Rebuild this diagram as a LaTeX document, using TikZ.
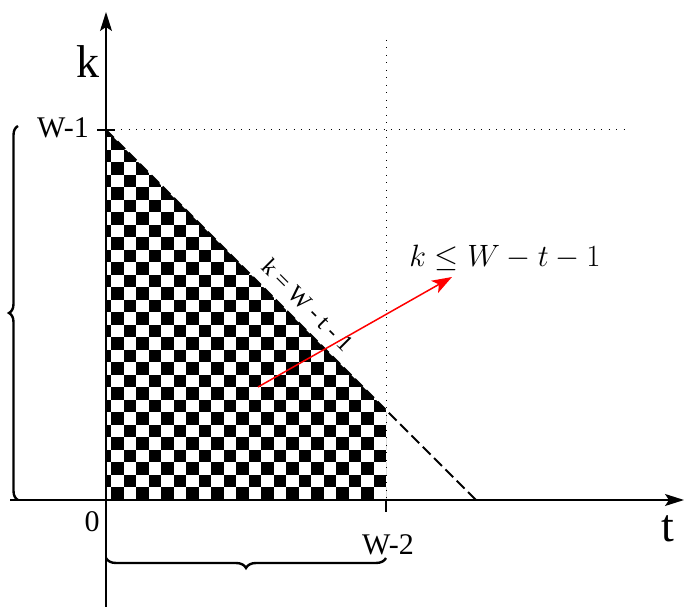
\documentclass[tikz,border=0pt]{standalone}
\usepackage[no-math]{fontspec}
\setmainfont{Liberation Serif}
\usetikzlibrary{arrows.meta,decorations.pathreplacing}
\begin{document}
\begin{tikzpicture}[x=1pt,y=1pt,
  axisline/.style={line width=1.3pt,-{Stealth[length=19pt,width=12pt,inset=4pt]}},
  dotline/.style={line width=1pt,dash pattern=on 1pt off 6.5pt},
  dashline/.style={line width=2pt,dash pattern=on 11pt off 5pt},
  bracestyle/.style={decorate,line width=2.4pt},
  redarrow/.style={red,line width=1.5pt,-{Stealth[length=20pt,width=14pt,inset=5pt]}},
  lbl/.style={inner sep=0pt,font=\fontsize{30}{30}\selectfont},
  biglbl/.style={inner sep=0pt,font=\fontsize{46}{46}\selectfont}]
\useasboundingbox (0,0) rectangle (686,608);
\coordinate (O) at (106,108);
\coordinate (Ytop) at (106,596);
\coordinate (Ybot) at (106,1);
\coordinate (Xl) at (10,108);
\coordinate (Xr) at (684,108);
\coordinate (K1) at (106,478);
\coordinate (C) at (386,198);
\coordinate (T2) at (386,108);
\coordinate (D) at (476,108);
% checkerboard
\begin{scope}
  \clip (K1) -- (C) -- (T2) -- (O) -- cycle;
  \foreach \r in {0,...,30}{
    \pgfmathtruncatemacro\s{mod(\r,2)==0 ? 0 : -1}
    \pgfmathtruncatemacro\t{\s+2}
    \foreach \c in {\s,\t,...,22}{
      \fill (111+12.5*\c,108+12.5*\r) rectangle ++(12.5,12.5);
    }
  }
\end{scope}
% dotted guides
\coordinate (H1) at (630,478);
\coordinate (V1) at (386,568);
\draw[dotline] (K1) -- (H1);
\draw[dotline] (V1) -- (T2);
% dashed boundary
\draw[dashline] (K1) -- (D);
% axes
\draw[axisline] (Ybot) -- (Ytop);
\draw[axisline] (Xl) -- (Xr);
% ticks
\coordinate (tk1a) at (97,478);
\coordinate (tk1b) at (115,478);
\draw[line width=1.2pt] (tk1a) -- (tk1b);
\coordinate (tk2) at (386,96);
\draw[line width=1.2pt] (T2) -- (tk2);
% labels
\node[biglbl] (klbl) at (88,546) {k};
\node[biglbl] (tlbl) at (668,79) {t};
\node[lbl] (w1) at (63,480) {W-1};
\node[lbl] (zero) at (92,86) {0};
\node[lbl] (w2) at (388,63) {W-2};
\node[inner sep=0pt,font=\fontsize{24}{24}\selectfont,rotate=-45] (eq) at (308,303) {k = W - t - 1};
\node[inner sep=0pt,scale=1.24,font=\fontsize{24.88}{25}\selectfont] (ineq) at (505,350) {$k \leq W-t-1$};
% red arrow
\coordinate (R1) at (258,221);
\coordinate (R2) at (452,331);
\draw[redarrow] (R1) -- (R2);
% braces
\coordinate (B1) at (386,50);
\coordinate (B2) at (106,50);
\draw[bracestyle,decoration={brace,amplitude=10pt}] (B1) -- (B2);
\coordinate (L1) at (18,108);
\coordinate (L2) at (18,482);
\draw[bracestyle,decoration={brace,amplitude=9pt}] (L1) -- (L2);
\end{tikzpicture}
\end{document}
